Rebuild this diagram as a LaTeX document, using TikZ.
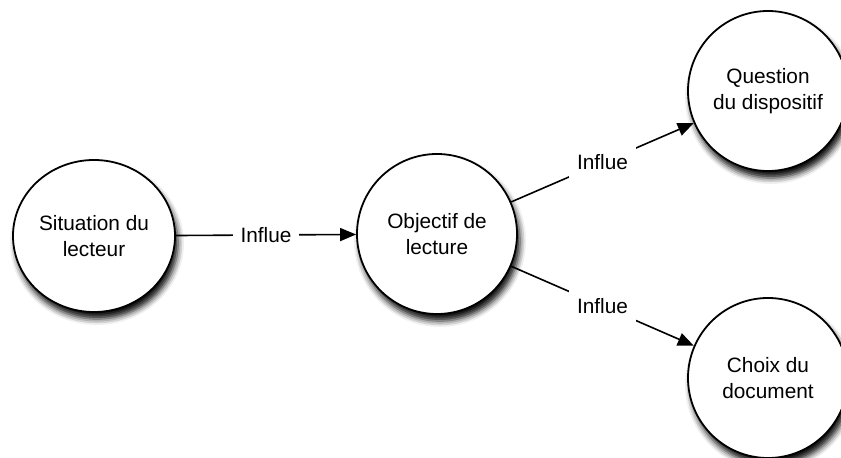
\documentclass[tikz,border=0pt]{standalone}
\usepackage{fontspec}
\setmainfont{Liberation Sans}
\usetikzlibrary{shapes.geometric, arrows.meta, shadows.blur}

\tikzset{
	etat/.style={circle, draw, line width=0.9pt, fill=white, minimum size=80pt, align=center, inner sep=0pt,
		blur shadow={shadow xshift=1.5pt, shadow yshift=-3.5pt, shadow blur radius=3pt, shadow opacity=95}},
	influe/.style={-{Triangle[length=8pt,width=6.5pt]}, line width=0.8pt},
	etiquette/.style={fill=white, inner sep=4pt}
}

\begin{document}
\begin{tikzpicture}[x=0.5pt, y=-0.5pt, font=\fontsize{10.4}{13}\selectfont]
	\useasboundingbox (0,0) rectangle (841,458);
	\clip (0,0) rectangle (841,458);
	\node (situation) [etat, ellipse, minimum width=81pt, minimum height=76pt] at (94,236) {Situation du\\lecteur};
	\node (objectif) [etat] at (437,234) {Objectif de\\lecture};
	\node (question) [etat] at (768,91) {Question\\du dispositif};
	\node (choix) [etat] at (768,378) {Choix du\\document};
	\draw [influe] (situation) -- node [etiquette] {Influe} (objectif);
	\draw [influe] (objectif) -- node [etiquette] {Influe} (question);
	\draw [influe] (objectif) -- node [etiquette] {Influe} (choix);
\end{tikzpicture}
\end{document}
